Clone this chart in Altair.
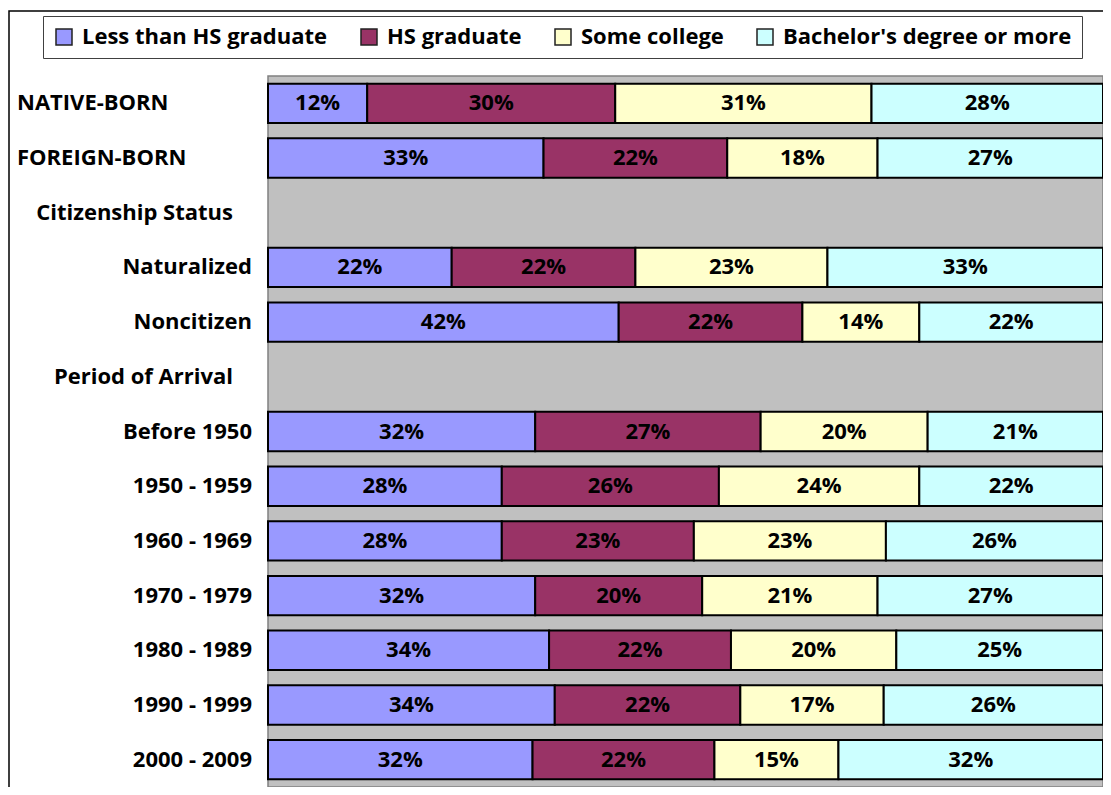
import altair as alt
import pandas as pd

categories = ["NATIVE-BORN", "FOREIGN-BORN", "Citizenship Status", "Naturalized",
              "Noncitizen", "Period of Arrival", "Before 1950", "1950 - 1959",
              "1960 - 1969", "1970 - 1979", "1980 - 1989", "1990 - 1999", "2000 - 2009"]
left_labels = ["NATIVE-BORN", "FOREIGN-BORN"]
header_labels = ["Citizenship Status", "Period of Arrival"]
series = ["Less than HS graduate", "HS graduate", "Some college", "Bachelor's degree or more"]
colors = ["#9999FF", "#993366", "#FFFFCC", "#CCFFFF"]

bar_rows = ["NATIVE-BORN", "FOREIGN-BORN", "Naturalized", "Noncitizen", "Before 1950",
            "1950 - 1959", "1960 - 1969", "1970 - 1979", "1980 - 1989", "1990 - 1999", "2000 - 2009"]
less_hs = [12, 33, 22, 42, 32, 28, 28, 32, 34, 34, 32]
hs_grad = [30, 22, 22, 22, 27, 26, 23, 20, 22, 22, 22]
some_college = [31, 18, 23, 14, 20, 24, 23, 21, 20, 17, 15]
bachelors = [28, 27, 33, 22, 21, 22, 26, 27, 25, 26, 32]

rows = []
for i, cat in enumerate(bar_rows):
    for k, vals in enumerate([less_hs, hs_grad, some_college, bachelors]):
        rows.append({"cat": cat, "series": series[k], "order": k, "value": vals[i]})
df = pd.DataFrame(rows)

lab_df = pd.DataFrame({"cat": categories})

FONT = "Open Sans"
FS = 22
W, H = 835, 711

yscale = alt.Scale(domain=categories, paddingInner=0.28, paddingOuter=0.14)

stacked = alt.Chart(df).transform_stack(
    stack="value", groupby=["cat"], as_=["x0", "x1"], offset="normalize",
    sort=[alt.SortField("order", order="ascending")]
).transform_calculate(mid="(datum.x0 + datum.x1) / 2", label="datum.value + '%'")

bars = stacked.mark_bar(stroke="black", strokeWidth=2).encode(
    x=alt.X("x0:Q", scale=alt.Scale(domain=[0, 1]), axis=None),
    x2="x1:Q",
    y=alt.Y("cat:N", scale=yscale,
            axis=alt.Axis(title=None, labels=False, tickBand="extent", ticks=True,
                          tickSize=8, tickColor="black", tickWidth=1,
                          domainColor="black", domainWidth=1.5, grid=False)),
    color=alt.Color("series:N", scale=alt.Scale(domain=series, range=colors),
                    legend=alt.Legend(title=None, orient="none", legendX=-225, legendY=-60,
                                      direction="horizontal", columns=4,
                                      symbolType="square", symbolSize=256,
                                      symbolStrokeColor="#222222", symbolStrokeWidth=1.5,
                                      symbolOpacity=1,
                                      labelFont=FONT, labelFontWeight="bold", labelFontSize=FS,
                                      labelColor="black", labelLimit=400,
                                      columnPadding=30, labelOffset=7,
                                      strokeColor="#404040", fillColor="white", padding=10)),
)

texts = stacked.mark_text(font=FONT, fontWeight="bold", fontSize=FS, color="black",
                          baseline="middle", align="center").encode(
    x=alt.X("mid:Q", scale=alt.Scale(domain=[0, 1]), axis=None),
    y=alt.Y("cat:N", scale=yscale, axis=None),
    text="label:N",
)

lab_base = alt.Chart(lab_df)
lab_left = lab_base.transform_filter(
    alt.FieldOneOfPredicate(field="cat", oneOf=left_labels)
).mark_text(font=FONT, fontWeight="bold", fontSize=FS, color="black",
            align="left", baseline="middle").encode(
    x=alt.value(-251), y=alt.Y("cat:N", scale=yscale, axis=None), text="cat:N")
lab_head = lab_base.transform_filter(
    alt.FieldOneOfPredicate(field="cat", oneOf=header_labels)
).mark_text(font=FONT, fontWeight="bold", fontSize=FS, color="black",
            align="right", baseline="middle").encode(
    x=alt.value(-35), y=alt.Y("cat:N", scale=yscale, axis=None), text="cat:N")
lab_right = lab_base.transform_filter(
    {"not": alt.FieldOneOfPredicate(field="cat", oneOf=left_labels + header_labels)}
).mark_text(font=FONT, fontWeight="bold", fontSize=FS, color="black",
            align="right", baseline="middle").encode(
    x=alt.value(-16), y=alt.Y("cat:N", scale=yscale, axis=None), text="cat:N")

frame = alt.Chart(pd.DataFrame({"a": [0]})).mark_rect(
    fillOpacity=0, stroke="black", strokeWidth=1.5, clip=False
).encode(x=alt.value(-259), x2=alt.value(W + 40), y=alt.value(-65), y2=alt.value(H + 40))

chart = alt.layer(frame, bars, texts, lab_left, lab_head, lab_right).properties(
    width=W, height=H,
    autosize=alt.AutoSizeParams(type="none"),
    padding={"left": 260, "top": 68, "right": 0, "bottom": 0},
).configure_view(fill="#C0C0C0", stroke="#808080", strokeWidth=1.5)

chart.save("out.html", embed_options={"renderer": "svg", "actions": False})
